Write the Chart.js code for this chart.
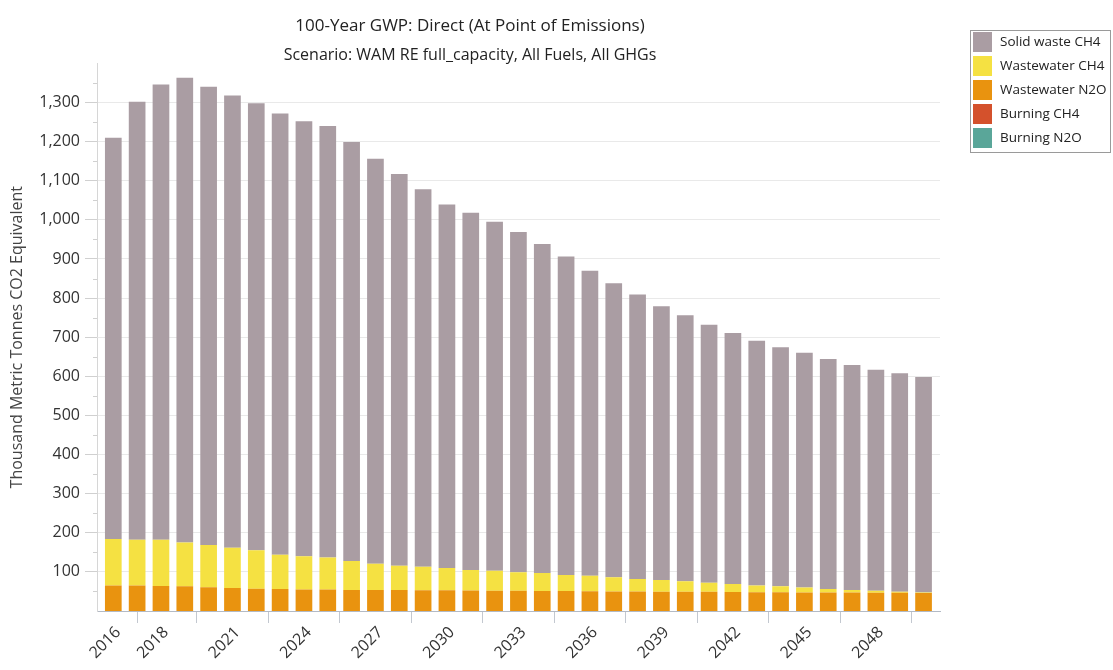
<!DOCTYPE html>
<html>
<head>
<meta charset="utf-8">
<title>100-Year GWP: Direct (At Point of Emissions)</title>
<script src="https://cdn.jsdelivr.net/npm/chart.js@4.4.1/dist/chart.umd.min.js"></script>
<style>
  html, body { margin: 0; padding: 0; background: #ffffff; }
  #wrap { width: 1113px; height: 670px; position: relative; }
</style>
</head>
<body>
<div id="wrap"><canvas id="chart"></canvas></div>
<script>
// Years shown as bars
const years = [2016, 2017, 2018, 2019, 2020, 2021, 2022, 2023, 2024, 2025,
               2026, 2027, 2028, 2029, 2030, 2031, 2032, 2033, 2034, 2035,
               2036, 2037, 2038, 2039, 2040, 2041, 2042, 2043, 2044, 2045,
               2046, 2047, 2048, 2049, 2050];

// Years that carry a label on the horizontal axis
const tickYears = [2016, 2018, 2021, 2024, 2027, 2030, 2033, 2036, 2039, 2042, 2045, 2048];

// Thousand metric tonnes CO2 equivalent, by source
const solidWasteCH4 = [1026, 1120, 1164, 1188, 1171, 1156, 1143, 1128, 1112, 1103,
                       1071, 1035, 1001, 965, 929, 913, 892, 870, 841, 814,
                       780, 752, 727, 700, 680, 660, 642, 626, 611, 600,
                       588, 575, 565.5, 559, 550.5];
const wastewaterCH4 = [119, 117, 118, 112, 108, 103, 98, 88, 85, 82,
                       74, 67, 62.5, 60, 57, 52.5, 51, 47.5, 46, 41,
                       39.5, 36, 32, 29.5, 27, 23, 20.5, 17, 15, 12.5,
                       9, 7, 5, 2.5, 1.5];
const wastewaterN2O = [65, 65, 64, 63, 61, 59, 57, 56, 55, 55,
                       54, 54, 53.5, 53, 53, 52.5, 52, 51.5, 51, 51,
                       50.5, 50, 50, 49.5, 49, 49, 48.5, 48, 48, 47.5,
                       47, 47, 46.5, 46.5, 46];
const burningCH4 = [0, 0, 0, 0, 0, 0, 0, 0, 0, 0,
                    0, 0, 0, 0, 0, 0, 0, 0, 0, 0,
                    0, 0, 0, 0, 0, 0, 0, 0, 0, 0,
                    0, 0, 0, 0, 0];
const burningN2O = [0, 0, 0, 0, 0, 0, 0, 0, 0, 0,
                    0, 0, 0, 0, 0, 0, 0, 0, 0, 0,
                    0, 0, 0, 0, 0, 0, 0, 0, 0, 0,
                    0, 0, 0, 0, 0];

const FONT = '"Open Sans", "Noto Sans", "DejaVu Sans", sans-serif';
Chart.defaults.font.family = FONT;
Chart.defaults.color = '#333333';

// Boxed legend at the upper right, listed from the top of the stack down
const boxedLegend = {
  id: 'boxedLegend',
  afterDraw(chart) {
    const ctx = chart.ctx;
    const x0 = chart.chartArea.right + 30;
    const y0 = 30;
    const rowH = 24;
    const items = chart.data.datasets.slice().reverse();
    ctx.save();
    ctx.strokeStyle = '#9a9a9a';
    ctx.lineWidth = 1;
    ctx.strokeRect(x0 + 0.5, y0 + 0.5, 140, items.length * rowH + 2);
    ctx.font = '13.5px ' + FONT;
    ctx.textBaseline = 'middle';
    ctx.textAlign = 'left';
    items.forEach((ds, i) => {
      const y = y0 + 2 + i * rowH;
      ctx.fillStyle = ds.backgroundColor;
      ctx.fillRect(x0 + 3, y, 19, 20);
      ctx.fillStyle = '#222222';
      ctx.fillText(ds.label, x0 + 30, y + 10.5);
    });
    ctx.restore();
  }
};

// Short minor tick marks half-way between the labelled values
const minorTicks = {
  id: 'minorTicks',
  afterDraw(chart) {
    const s = chart.scales.y;
    const ctx = chart.ctx;
    ctx.save();
    ctx.strokeStyle = '#d0d0d0';
    ctx.lineWidth = 1;
    for (let v = 50; v < s.max; v += 100) {
      const py = Math.round(s.getPixelForValue(v)) + 0.5;
      ctx.beginPath();
      ctx.moveTo(s.right - 4, py);
      ctx.lineTo(s.right, py);
      ctx.stroke();
    }
    ctx.restore();
  }
};

const barOpts = { barPercentage: 0.7, categoryPercentage: 1.0, borderWidth: 0 };

new Chart(document.getElementById('chart'), {
  type: 'bar',
  data: {
    labels: years,
    datasets: [
      Object.assign({ label: 'Burning N2O', data: burningN2O, backgroundColor: '#5aa699' }, barOpts),
      Object.assign({ label: 'Burning CH4', data: burningCH4, backgroundColor: '#d4512c' }, barOpts),
      Object.assign({ label: 'Wastewater N2O', data: wastewaterN2O, backgroundColor: '#e9930f' }, barOpts),
      Object.assign({ label: 'Wastewater CH4', data: wastewaterCH4, backgroundColor: '#f5e142' }, barOpts),
      Object.assign({ label: 'Solid waste CH4', data: solidWasteCH4, backgroundColor: '#aa9da3' }, barOpts)
    ]
  },
  options: {
    responsive: true,
    maintainAspectRatio: false,
    animation: false,
    layout: { padding: { left: 0, right: 173, top: 0, bottom: 0 } },
    plugins: {
      legend: { display: false },
      tooltip: { enabled: false },
      title: {
        display: true,
        text: '100-Year GWP: Direct (At Point of Emissions)',
        color: '#222222',
        font: { size: 17, weight: 'normal', lineHeight: 1.2 },
        padding: { top: 16, bottom: 6 }
      },
      subtitle: {
        display: true,
        text: 'Scenario: WAM RE full_capacity, All Fuels, All GHGs',
        color: '#222222',
        font: { size: 16, weight: 'normal', lineHeight: 1.0 },
        padding: { top: 5, bottom: 0 }
      }
    },
    scales: {
      x: {
        type: 'linear',
        stacked: true,
        offset: false,
        min: 2015.316,
        max: 2050.69,
        afterBuildTicks(scale) {
          scale.ticks = tickYears.map(v => ({ value: v }));
        },
        afterFit(scale) { scale.height = 59; },
        ticks: {
          autoSkip: false,
          minRotation: 45,
          maxRotation: 45,
          padding: 0,
          labelOffset: 5,
          color: '#333333',
          font: { size: 16 },
          callback: v => String(v)
        },
        grid: {
          drawOnChartArea: false,
          drawTicks: true,
          tickLength: 12,
          tickColor: '#c3c8d0'
        },
        border: { color: '#b3bac5', width: 1 }
      },
      y: {
        stacked: true,
        min: 0,
        max: 1400,
        afterFit(scale) { scale.width = 97; },
        ticks: {
          stepSize: 100,
          padding: 5,
          color: '#333333',
          font: { size: 16 },
          callback: v => (v === 0 || v === 1400) ? null : v.toLocaleString('en-US')
        },
        grid: {
          color: '#e9e9e9',
          tickColor: '#d0d0d0',
          tickLength: 12
        },
        border: { color: '#d6d6d6', width: 1 },
        title: {
          display: true,
          text: 'Thousand Metric Tonnes CO2 Equivalent',
          color: '#444444',
          font: { size: 16, weight: 'normal' },
          padding: { top: 8, bottom: 0 }
        }
      }
    }
  },
  plugins: [minorTicks, boxedLegend]
});
</script>
</body>
</html>
